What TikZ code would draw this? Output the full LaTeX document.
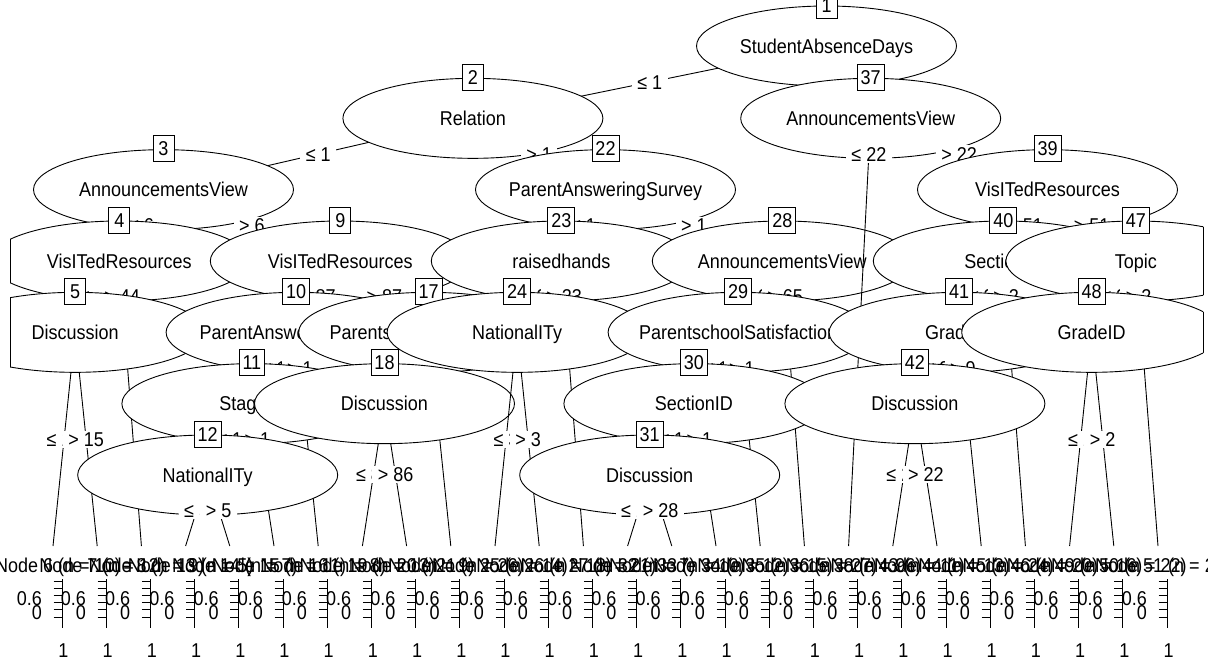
\documentclass[tikz,border=0pt]{standalone}
\usepackage{fontspec}
\setmainfont{Liberation Sans}[FakeStretch=0.9]
\usetikzlibrary{calc}
\newcommand{\lblfont}{\fontsize{20}{22}\selectfont}
\tikzset{
  ln/.style={line width=0.9pt, black},
  vartext/.style={inner sep=0pt, text height=14.3pt, text depth=0pt, font=\lblfont},
  idbox/.style={draw, line width=0.9pt, fill=white, inner xsep=3.5pt, inner ysep=0pt, minimum width=21pt, minimum height=26pt, text height=14.3pt, text depth=0pt, font=\lblfont},
  elab/.style={fill=white, inner xsep=5.5pt, inner ysep=1.5pt, text height=14.3pt, text depth=0pt, font=\lblfont},
  termlab/.style={inner sep=0pt, text height=14.3pt, text depth=0pt, font=\lblfont},
  axlab/.style={inner sep=0pt, text height=14.3pt, text depth=0pt, font=\lblfont},
}
\newcommand{\InnerNode}[3]{%
  \begin{scope}
    \clip (10,-20) rectangle (1203,700);
    \filldraw[ln, fill=white] (#1) ellipse [x radius=130pt, y radius=40pt];
  \end{scope}
  \begin{scope}
    \clip (#1) ellipse [x radius=130pt, y radius=40pt];
    \draw[ln] (10,-20) -- (10,700);
    \draw[ln] (1203,-20) -- (1203,700);
  \end{scope}
  \node[vartext] (v#3) at (#1) {#2};
  \node[idbox] (b#3) at ($(#1)+(0,-41)$) {#3};
}
\newcommand{\TermNode}[3]{%
  \node[termlab] (tl#2) at (#1+5,565) {Node #2 (n = #3)};
  \draw[ln] (#1+9,579) -- (#1+9,628);
  \foreach \tk in {0,...,5} {\draw[ln] (#1+0.5,581+7.2*\tk) -- (#1+9,581+7.2*\tk);}
  \node[axlab, anchor=east] (ya#2) at (#1-11,598) {0.6};
  \node[axlab, anchor=east] (yb#2) at (#1-11,612) {0};
  \node[axlab] (xl#2) at (#1+10.5,650) {1};
}
\newcommand{\LE}[1]{≤ #1}
\newcommand{\GT}[1]{> #1}
\begin{document}
\begin{tikzpicture}[x=1pt,y=-1pt]
\useasboundingbox (0,0) rectangle (1208,665);
\fill[white] (0,0) rectangle (1208,665);
\clip (0,0) rectangle (1208,665);
% inner node centres
\coordinate (n1) at (826.5,46);
\coordinate (n2) at (472.9,118.33);
\coordinate (n37) at (870.7,118.33);
\coordinate (n3) at (163.5,189.67);
\coordinate (n22) at (605.5,189.67);
\coordinate (n39) at (1047.5,189.67);
\coordinate (n4) at (119.3,261);
\coordinate (n9) at (340.3,261);
\coordinate (n23) at (561.3,261);
\coordinate (n28) at (782.3,261);
\coordinate (n40) at (1003.3,261);
\coordinate (n47) at (1135.9,261);
\coordinate (n5) at (75.1,332.33);
\coordinate (n10) at (296.1,332.33);
\coordinate (n17) at (428.7,332.33);
\coordinate (n24) at (517.1,332.33);
\coordinate (n29) at (738.1,332.33);
\coordinate (n41) at (959.1,332.33);
\coordinate (n48) at (1091.7,332.33);
\coordinate (n11) at (251.9,403.67);
\coordinate (n18) at (384.5,403.67);
\coordinate (n30) at (693.9,403.67);
\coordinate (n42) at (914.9,403.67);
\coordinate (n12) at (207.7,475);
\coordinate (n31) at (649.7,475);
% terminal tops
\coordinate (t6) at (53,546);
\coordinate (t7) at (97.2,546);
\coordinate (t8) at (141.4,546);
\coordinate (t13) at (185.6,546);
\coordinate (t14) at (229.8,546);
\coordinate (t15) at (274,546);
\coordinate (t16) at (318.2,546);
\coordinate (t19) at (362.4,546);
\coordinate (t20) at (406.6,546);
\coordinate (t21) at (450.8,546);
\coordinate (t25) at (495,546);
\coordinate (t26) at (539.2,546);
\coordinate (t27) at (583.4,546);
\coordinate (t32) at (627.6,546);
\coordinate (t33) at (671.8,546);
\coordinate (t34) at (716,546);
\coordinate (t35) at (760.2,546);
\coordinate (t36) at (804.4,546);
\coordinate (t38) at (848.6,546);
\coordinate (t43) at (892.8,546);
\coordinate (t44) at (937,546);
\coordinate (t45) at (981.2,546);
\coordinate (t46) at (1025.4,546);
\coordinate (t49) at (1069.6,546);
\coordinate (t50) at (1113.8,546);
\coordinate (t51) at (1158,546);

% ---- node 1
\draw[ln] (n1) -- (n2); \draw[ln] (n1) -- (n37);
\InnerNode{n1}{StudentAbsenceDays}{1}
\path (n1) -- (n2) node[elab,pos=0.5] (e1a) {\LE{1}};
% ---- node 2
\draw[ln] (n2) -- (n3); \draw[ln] (n2) -- (n22);
\InnerNode{n2}{Relation}{2}
\path (n2) -- (n3) node[elab,pos=0.5] (e2a) {\LE{1}};
\path (n2) -- (n22) node[elab,pos=0.5] (e2b) {\GT{1}};
% ---- node 3
\draw[ln] (n3) -- (n4); \draw[ln] (n3) -- (n9);
\InnerNode{n3}{AnnouncementsView}{3}
\path (n3) -- (n4) node[elab,pos=0.5] (e3a) {\LE{6}};
\path (n3) -- (n9) node[elab,pos=0.5] (e3b) {\GT{6}};
% ---- node 4
\draw[ln] (n4) -- (n5); \draw[ln] (n4) -- (t8);
\InnerNode{n4}{VisITedResources}{4}
\path (n4) -- (n5) node[elab,pos=0.5] (e4a) {\LE{44}};
\path (n4) -- (t8) node[elab,pos=0.1256] (e4b) {\GT{44}};
% ---- node 5
\draw[ln] (n5) -- (t6); \draw[ln] (n5) -- (t7);
\InnerNode{n5}{Discussion}{5}
\path (n5) -- (t6) node[elab,pos=0.5] (e5a) {\LE{15}};
\path (n5) -- (t7) node[elab,pos=0.5] (e5b) {\GT{15}};
\TermNode{53}{6}{10}
\TermNode{97.2}{7}{12}
\TermNode{141.4}{8}{9}
% ---- node 9
\draw[ln] (n9) -- (n10); \draw[ln] (n9) -- (n17);
\InnerNode{n9}{VisITedResources}{9}
\path (n9) -- (n10) node[elab,pos=0.5] (e9a) {\LE{87}};
\path (n9) -- (n17) node[elab,pos=0.5] (e9b) {\GT{87}};
% ---- node 10
\draw[ln] (n10) -- (n11); \draw[ln] (n10) -- (t16);
\InnerNode{n10}{ParentAnsweringSurvey}{10}
\path (n10) -- (n11) node[elab,pos=0.5] (e10a) {\LE{1}};
\path (n10) -- (t16) node[elab,pos=0.1677] (e10b) {\GT{1}};
% ---- node 11
\draw[ln] (n11) -- (n12); \draw[ln] (n11) -- (t15);
\InnerNode{n11}{StageID}{11}
\path (n11) -- (n12) node[elab,pos=0.5] (e11a) {\LE{1}};
\path (n11) -- (t15) node[elab,pos=0.2524] (e11b) {\GT{1}};
% ---- node 12
\draw[ln] (n12) -- (t13); \draw[ln] (n12) -- (t14);
\InnerNode{n12}{NationalITy}{12}
\path (n12) -- (t13) node[elab,pos=0.5] (e12a) {\LE{5}};
\path (n12) -- (t14) node[elab,pos=0.5] (e12b) {\GT{5}};
\TermNode{185.6}{13}{5}
\TermNode{229.8}{14}{7}
\TermNode{274}{15}{11}
\TermNode{318.2}{16}{8}
% ---- node 17
\draw[ln] (n17) -- (n18); \draw[ln] (n17) -- (t21);
\InnerNode{n17}{ParentschoolSatisfaction}{17}
% ---- node 18
\draw[ln] (n18) -- (t19); \draw[ln] (n18) -- (t20);
\InnerNode{n18}{Discussion}{18}
\path (n18) -- (t19) node[elab,pos=0.5] (e18a) {\LE{86}};
\path (n18) -- (t20) node[elab,pos=0.5] (e18b) {\GT{86}};
\TermNode{362.4}{19}{13}
\TermNode{406.6}{20}{9}
\TermNode{450.8}{21}{26}
% ---- node 22
\draw[ln] (n22) -- (n23); \draw[ln] (n22) -- (n28);
\InnerNode{n22}{ParentAnsweringSurvey}{22}
\path (n22) -- (n23) node[elab,pos=0.5] (e22a) {\LE{1}};
\path (n22) -- (n28) node[elab,pos=0.5] (e22b) {\GT{1}};
% ---- node 23
\draw[ln] (n23) -- (n24); \draw[ln] (n23) -- (t27);
\InnerNode{n23}{raisedhands}{23}
\path (n23) -- (n24) node[elab,pos=0.5] (e23a) {\LE{23}};
\path (n23) -- (t27) node[elab,pos=0.1256] (e23b) {\GT{23}};
% ---- node 24
\draw[ln] (n24) -- (t25); \draw[ln] (n24) -- (t26);
\InnerNode{n24}{NationalITy}{24}
\path (n24) -- (t25) node[elab,pos=0.5] (e24a) {\LE{3}};
\path (n24) -- (t26) node[elab,pos=0.5] (e24b) {\GT{3}};
\TermNode{495}{25}{14}
\TermNode{539.2}{26}{18}
\TermNode{583.4}{27}{21}
% ---- node 28
\draw[ln] (n28) -- (n29); \draw[ln] (n28) -- (t36);
\InnerNode{n28}{AnnouncementsView}{28}
\path (n28) -- (n29) node[elab,pos=0.5] (e28a) {\LE{65}};
\path (n28) -- (t36) node[elab,pos=0.1256] (e28b) {\GT{65}};
% ---- node 29
\draw[ln] (n29) -- (n30); \draw[ln] (n29) -- (t35);
\InnerNode{n29}{ParentschoolSatisfaction}{29}
\path (n29) -- (n30) node[elab,pos=0.5] (e29a) {\LE{1}};
\path (n29) -- (t35) node[elab,pos=0.1677] (e29b) {\GT{1}};
% ---- node 30
\draw[ln] (n30) -- (n31); \draw[ln] (n30) -- (t34);
\InnerNode{n30}{SectionID}{30}
\path (n30) -- (n31) node[elab,pos=0.5] (e30a) {\LE{1}};
\path (n30) -- (t34) node[elab,pos=0.2524] (e30b) {\GT{1}};
% ---- node 31
\draw[ln] (n31) -- (t32); \draw[ln] (n31) -- (t33);
\InnerNode{n31}{Discussion}{31}
\path (n31) -- (t32) node[elab,pos=0.5] (e31a) {\LE{28}};
\path (n31) -- (t33) node[elab,pos=0.5] (e31b) {\GT{28}};
\TermNode{627.6}{32}{7}
\TermNode{671.8}{33}{10}
\TermNode{716}{34}{12}
\TermNode{760.2}{35}{15}
\TermNode{804.4}{36}{27}
% ---- node 37
\draw[ln] (n37) -- (t38); \draw[ln] (n37) -- (n39);
\InnerNode{n37}{AnnouncementsView}{37}
\path (n37) -- (t38) node[elab,pos=0.0836] (e37a) {\LE{22}};
\path (n37) -- (n39) node[elab,pos=0.5] (e37b) {\GT{22}};
\TermNode{848.6}{38}{96}
% ---- node 39
\draw[ln] (n39) -- (n40); \draw[ln] (n39) -- (n47);
\InnerNode{n39}{VisITedResources}{39}
\path (n39) -- (n40) node[elab,pos=0.5] (e39a) {\LE{51}};
\path (n39) -- (n47) node[elab,pos=0.5] (e39b) {\GT{51}};
% ---- node 40
\draw[ln] (n40) -- (n41); \draw[ln] (n40) -- (t46);
\InnerNode{n40}{SectionID}{40}
\path (n40) -- (n41) node[elab,pos=0.5] (e40a) {\LE{2}};
\path (n40) -- (t46) node[elab,pos=0.1256] (e40b) {\GT{2}};
% ---- node 41
\draw[ln] (n41) -- (n42); \draw[ln] (n41) -- (t45);
\InnerNode{n41}{GradeID}{41}
\path (n41) -- (n42) node[elab,pos=0.5] (e41a) {\LE{9}};
\path (n41) -- (t45) node[elab,pos=0.1677] (e41b) {\GT{9}};
% ---- node 42
\draw[ln] (n42) -- (t43); \draw[ln] (n42) -- (t44);
\InnerNode{n42}{Discussion}{42}
\path (n42) -- (t43) node[elab,pos=0.5] (e42a) {\LE{22}};
\path (n42) -- (t44) node[elab,pos=0.5] (e42b) {\GT{22}};
\TermNode{892.8}{43}{11}
\TermNode{937}{44}{13}
\TermNode{981.2}{45}{24}
\TermNode{1025.4}{46}{20}
% ---- node 47
\draw[ln] (n47) -- (n48); \draw[ln] (n47) -- (t51);
\InnerNode{n47}{Topic}{47}
\path (n47) -- (n48) node[elab,pos=0.5] (e47a) {\LE{2}};
\path (n47) -- (t51) node[elab,pos=0.1256] (e47b) {\GT{2}};
% ---- node 48
\draw[ln] (n48) -- (t49); \draw[ln] (n48) -- (t50);
\InnerNode{n48}{GradeID}{48}
\path (n48) -- (t49) node[elab,pos=0.5] (e48a) {\LE{2}};
\path (n48) -- (t50) node[elab,pos=0.5] (e48b) {\GT{2}};
\TermNode{1069.6}{49}{16}
\TermNode{1113.8}{50}{22}
\TermNode{1158}{51}{28}
\end{tikzpicture}
\end{document}
